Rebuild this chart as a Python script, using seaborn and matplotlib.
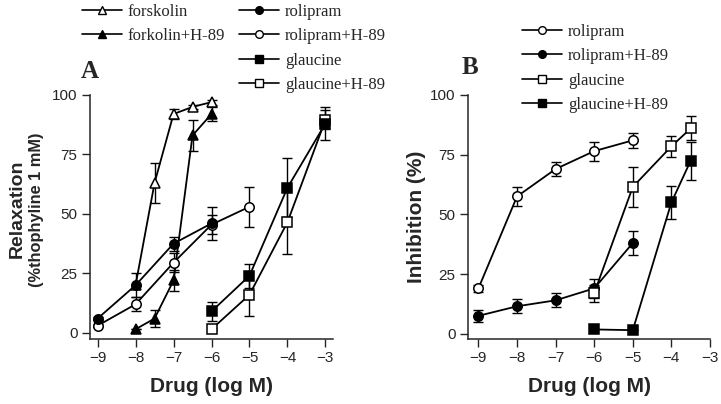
import matplotlib

matplotlib.use("Agg")
import matplotlib.pyplot as plt
import seaborn as sns
from matplotlib.lines import Line2D

# ---- panel A data (relaxation, % of theophylline 1 mM) ----
a_forsk_x = [-8, -7.5, -7, -6.5, -6]
a_forsk_y = [20, 63, 92, 95, 97]
a_forsk_e = [0, 8.5, 2, 1, 1]

a_forskh_x = [-8, -7.5, -7, -6.5, -6]
a_forskh_y = [1.5, 6, 22, 83, 92]
a_forskh_e = [0, 3.5, 4.5, 6.5, 3]

a_roli_x = [-9, -8, -7, -6]
a_roli_y = [6, 20, 37.5, 46]
a_roli_e = [0.5, 5, 3, 7]

a_rolih_x = [-9, -8, -7, -6, -5]
a_rolih_y = [3, 12, 29.5, 45.5, 53]
a_rolih_e = [0.5, 3, 4, 4, 8.5]

a_glau_x = [-6, -5, -4, -3]
a_glau_y = [9, 24, 61, 88]
a_glau_e = [4, 5, 12.5, 7]

a_glauh_x = [-6, -5, -4, -3]
a_glauh_y = [1.5, 16, 46.5, 89.5]
a_glauh_e = [0.5, 9, 13.5, 4]

# ---- panel B data (inhibition, %) ----
b_roli_x = [-9, -8, -7, -6, -5]
b_roli_y = [19, 57.5, 69, 76.5, 81]
b_roli_e = [1.5, 4, 3, 4, 3]

b_rolih_x = [-9, -8, -7, -6, -5]
b_rolih_y = [7.5, 11.5, 14, 19, 38]
b_rolih_e = [2.5, 3, 3, 4, 5]

b_glau_x = [-6, -5, -4, -3.5]
b_glau_y = [17, 61.5, 78.5, 86]
b_glau_e = [3.5, 8.5, 4.5, 5]

b_glauh_x = [-6, -5, -4, -3.5]
b_glauh_y = [1.8, 1.5, 55, 72.5]
b_glauh_e = [0, 0, 7, 8]

x_ticks = [-9, -8, -7, -6, -5, -4, -3]
y_ticks = [0, 25, 50, 75, 100]

sns.set_style("ticks")
plt.rcParams["font.family"] = ["Liberation Sans", "DejaVu Sans"]
SERIF = ["Liberation Serif", "DejaVu Serif"]


def draw_series(ax, x, y, err, marker, filled):
    ax.errorbar(x, y, yerr=err, fmt="none", ecolor="black", elinewidth=1.0,
                capsize=3.5, capthick=1.0, zorder=2)
    sns.lineplot(x=x, y=y, ax=ax, color="black", linewidth=1.3, marker=marker,
                 markersize=6.8, markeredgecolor="black", markeredgewidth=1.1,
                 markerfacecolor="black" if filled else "white", zorder=3)


def style_axes(ax, xlim, ylim):
    ax.set_xlim(*xlim)
    ax.set_ylim(*ylim)
    ax.set_xticks(x_ticks)
    ax.set_yticks(y_ticks)
    ax.tick_params(direction="out", length=6, width=1.0, labelsize=11, pad=3)
    for side in ("left", "bottom"):
        ax.spines[side].set_linewidth(1.1)
    sns.despine(ax=ax)
    ax.set_xlabel("Drug (log M)", fontsize=15, fontweight="bold", labelpad=8)


def legend_handle(marker, filled):
    return Line2D([], [], color="black", linewidth=1.2, marker=marker, markersize=5.5,
                  markeredgecolor="black", markerfacecolor="black" if filled else "white")


fig = plt.figure(figsize=(7.21, 4.04), dpi=100)

# panel A
ax_a = fig.add_axes([90 / 721, 1 - 339 / 404, 243 / 721, 244 / 404])
draw_series(ax_a, a_forsk_x, a_forsk_y, a_forsk_e, "^", False)
draw_series(ax_a, a_forskh_x, a_forskh_y, a_forskh_e, "^", True)
draw_series(ax_a, a_rolih_x, a_rolih_y, a_rolih_e, "o", False)
draw_series(ax_a, a_roli_x, a_roli_y, a_roli_e, "o", True)
draw_series(ax_a, a_glauh_x, a_glauh_y, a_glauh_e, "s", False)
draw_series(ax_a, a_glau_x, a_glau_y, a_glau_e, "s", True)
style_axes(ax_a, (-9.2, -2.8), (-2.6, 100))
ax_a.set_ylabel("")
fig.text(17 / 721, 1 - 209 / 404, "Relaxation", rotation=90, ha="center", va="center",
         fontsize=14, fontweight="bold")
fig.text(37 / 721, 1 - 210 / 404, "(%thophyline 1 mM)", rotation=90, ha="center",
         va="center", fontsize=11.8, fontweight="bold")

# panel B
ax_b = fig.add_axes([468 / 721, 1 - 339 / 404, 242 / 721, 244 / 404])
draw_series(ax_b, b_roli_x, b_roli_y, b_roli_e, "o", False)
draw_series(ax_b, b_rolih_x, b_rolih_y, b_rolih_e, "o", True)
draw_series(ax_b, b_glau_x, b_glau_y, b_glau_e, "s", False)
draw_series(ax_b, b_glauh_x, b_glauh_y, b_glauh_e, "s", True)
style_axes(ax_b, (-9.27, -3.0), (-2.2, 100))
ax_b.set_ylabel("Inhibition (%)", fontsize=15, fontweight="bold", labelpad=3)

# panel letters
fig.text(90 / 721, 1 - 72 / 404, "A", ha="center", va="center", fontsize=18,
         fontweight="bold", family=SERIF)
fig.text(470 / 721, 1 - 68 / 404, "B", ha="center", va="center", fontsize=18,
         fontweight="bold", family=SERIF)

# legends
legend_kw = dict(frameon=False, handlelength=2.4, handletextpad=0.35, labelspacing=0.5,
                 borderpad=0, borderaxespad=0, prop={"family": SERIF, "size": 12})

leg1 = fig.legend([legend_handle("^", False), legend_handle("^", True)],
                  ["forskolin", "forkolin+H-89"], loc="upper left",
                  bbox_to_anchor=(82 / 721, 1 - 4 / 404), **legend_kw)
leg2 = fig.legend([legend_handle("o", True), legend_handle("o", False),
                   legend_handle("s", True), legend_handle("s", False)],
                  ["rolipram", "rolipram+H-89", "glaucine", "glaucine+H-89"],
                  loc="upper left", bbox_to_anchor=(239 / 721, 1 - 4 / 404), **legend_kw)
leg3 = fig.legend([legend_handle("o", False), legend_handle("o", True),
                   legend_handle("s", False), legend_handle("s", True)],
                  ["rolipram", "rolipram+H-89", "glaucine", "glaucine+H-89"],
                  loc="upper left", bbox_to_anchor=(522 / 721, 1 - 24 / 404), **legend_kw)

fig.savefig("out.png", dpi=100)
plt.close(fig)
